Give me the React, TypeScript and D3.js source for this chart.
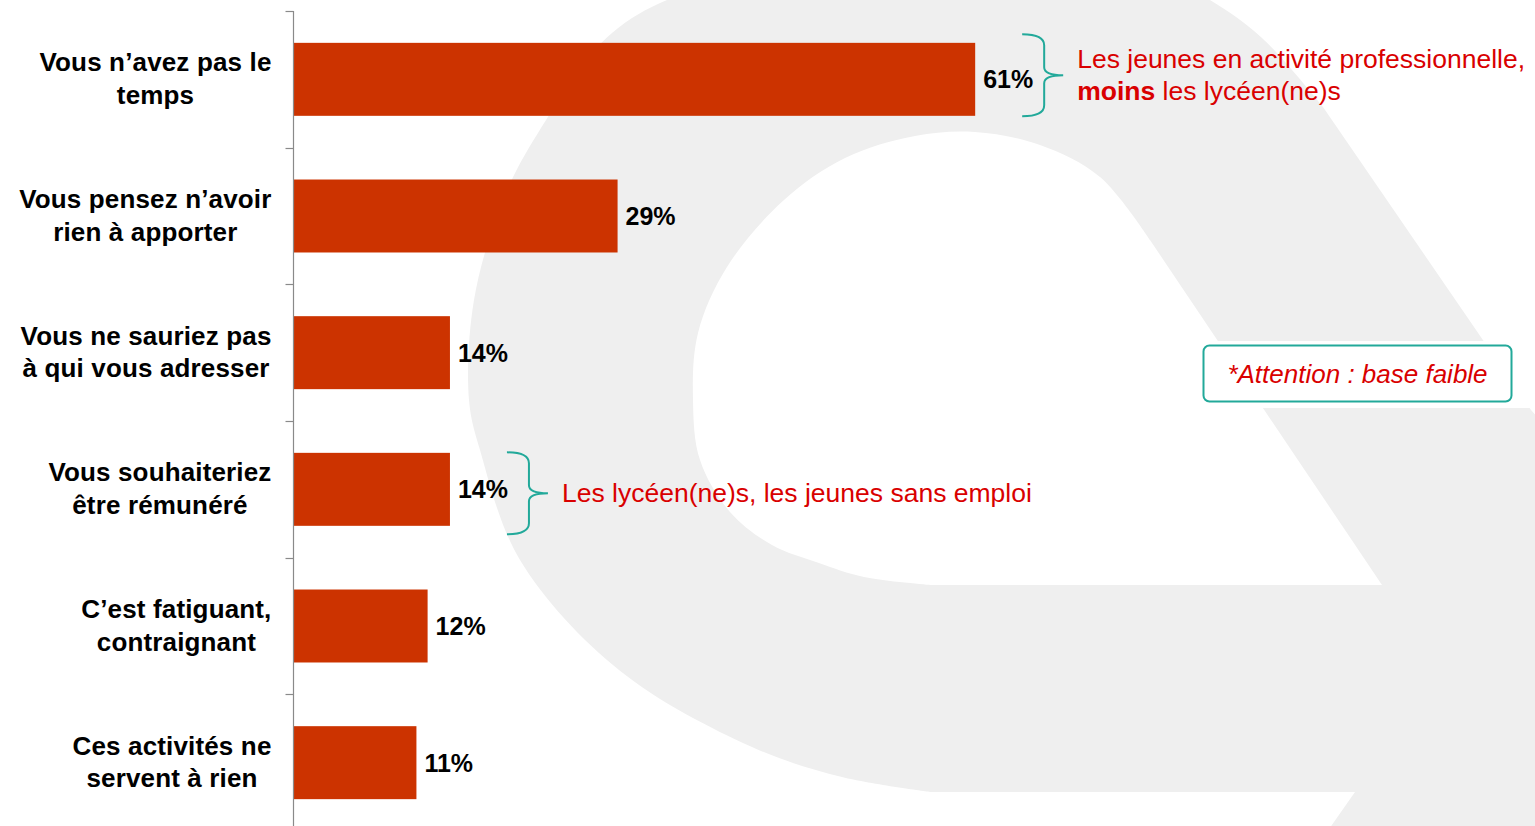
import { useEffect, useRef } from 'react'
import * as d3 from 'd3'

// chart data
const categories = [
  'Vous n’avez pas le\ntemps',
  'Vous pensez n’avoir\nrien à apporter',
  'Vous ne sauriez pas\nà qui vous adresser',
  'Vous souhaiteriez\nêtre rémunéré',
  'C’est fatiguant,\ncontraignant',
  'Ces activités ne\nservent à rien'
]
const values = [61, 29, 14, 14, 12, 11]

// callouts next to some bars (bold parts marked with b)
const callouts = [
  {
    index: 0,
    shift: -4,
    gap: 47,
    lines: [
      [{ t: 'Les jeunes en activité professionnelle,', b: false }],
      [{ t: 'moins', b: true }, { t: ' les lycéen(ne)s', b: false }]
    ]
  },
  {
    index: 3,
    shift: 4,
    gap: 57,
    lines: [[{ t: 'Les lycéen(ne)s, les jeunes sans emploi', b: false }]]
  }
]
const noteText = '*Attention : base faible'

// faint logo in the background
const logoOuter = [
  [1323, 107], [1262, 38], [1210, 0], [1150, -30], [900, -45], [700, -12],
  [612, 33], [538, 133], [503, 200], [474, 300], [469, 400], [480, 450],
  [520, 560], [619, 670], [752, 747], [842, 777], [931, 792]
]
const logoHole = [
  [1150, 240], [1100, 177], [1040, 145], [975, 132], [915, 136], [845, 158],
  [784, 200], [727, 267], [698, 333], [693, 400], [700, 460], [730, 512],
  [772, 545], [819, 563], [864, 577], [931, 585]
]

const W = 1535
const H = 826
const FONT = '"Liberation Sans", Arial, sans-serif'
const BAR = '#CC3300'
const RED = '#D90000'
const TEAL = '#22A99A'

function App() {
  const svgRef = useRef(null)

  useEffect(() => {
    const svg = d3.select(svgRef.current)
    svg.selectAll('*').remove()

    // background watermark
    const curve = d3.line().curve(d3.curveCatmullRom.alpha(0.5))
    const outerPath = curve(logoOuter) + 'L1355,792L1327,832L1540,832L1540,420L1531,410Z'
    const holePath = curve(logoHole) + 'L1382,585Z'
    svg.append('rect').attr('width', W).attr('height', H).attr('fill', '#ffffff')
    svg.append('path')
      .attr('d', outerPath + holePath)
      .attr('fill', '#efefef')
      .attr('fill-rule', 'evenodd')
    svg.append('rect')
      .attr('x', 1190).attr('y', 341).attr('width', 345).attr('height', 67)
      .attr('fill', '#ffffff')

    // scales
    const y = d3.scaleBand()
      .domain(d3.range(categories.length))
      .range([11, 831])
      .paddingInner(0.466)
      .paddingOuter(0.233)

    const x = d3.scaleLinear()
      .domain([0, 100])
      .range([293.5, 293.5 + 1117.5])

    const g = svg.append('g')

    // bars
    g.selectAll('.bar')
      .data(values)
      .enter().append('rect')
      .attr('class', 'bar')
      .attr('x', x(0))
      .attr('y', (d, i) => y(i))
      .attr('width', d => x(d) - x(0))
      .attr('height', y.bandwidth())
      .attr('fill', BAR)

    // value labels
    g.selectAll('.value')
      .data(values)
      .enter().append('text')
      .attr('class', 'value')
      .attr('x', d => x(d) + 8)
      .attr('y', (d, i) => y(i) + y.bandwidth() / 2 + 9)
      .style('font-family', FONT)
      .style('font-weight', 'bold')
      .style('font-size', '25px')
      .attr('fill', '#000')
      .text(d => `${d}%`)

    // axis: vertical line with ticks on band boundaries
    const axisColor = '#8a8a8a'
    g.append('line')
      .attr('x1', x(0)).attr('x2', x(0))
      .attr('y1', y.range()[0]).attr('y2', H + 5)
      .attr('stroke', axisColor)
      .attr('stroke-width', 1.2)
    const bounds = d3.range(categories.length + 1).map(i => y.range()[0] + i * y.step())
    g.selectAll('.tick')
      .data(bounds)
      .enter().append('line')
      .attr('x1', x(0) - 8).attr('x2', x(0))
      .attr('y1', d => Math.round(d) + 0.5).attr('y2', d => Math.round(d) + 0.5)
      .attr('stroke', axisColor)
      .attr('stroke-width', 1.2)

    // category labels: lines centered, block right aligned to the axis
    categories.forEach((label, i) => {
      const c = y(i) + y.bandwidth() / 2
      const lines = label.split('\n')
      const t = g.append('text')
        .style('font-family', FONT)
        .style('font-weight', 'bold')
        .style('font-size', '26px')
        .style('letter-spacing', '0.15px')
        .attr('text-anchor', 'middle')
        .attr('fill', '#000')
      const spans = lines.map((ln, k) =>
        t.append('tspan')
          .attr('x', 0)
          .attr('y', c - 8 + k * 32.5)
          .text(ln))
      const maxW = d3.max(spans, s => s.node().getComputedTextLength())
      spans.forEach(s => s.attr('x', x(0) - 22 - maxW / 2))
    })

    // callouts with braces
    callouts.forEach(co => {
      const tipY = y(co.index) + y.bandwidth() / 2 + co.shift
      const xl = x(values[co.index]) + co.gap
      const xm = xl + 22
      const xt = xl + 41
      const top = tipY - 41
      const bot = tipY + 41
      const p = d3.path()
      p.moveTo(xl, top)
      p.quadraticCurveTo(xm, top, xm, top + 11)
      p.lineTo(xm, tipY - 8)
      p.quadraticCurveTo(xm, tipY, xt, tipY)
      p.quadraticCurveTo(xm, tipY, xm, tipY + 8)
      p.lineTo(xm, bot - 11)
      p.quadraticCurveTo(xm, bot, xl, bot)
      g.append('path')
        .attr('d', p.toString())
        .attr('fill', 'none')
        .attr('stroke', TEAL)
        .attr('stroke-width', 2)

      const t = g.append('text')
        .style('font-family', FONT)
        .style('font-size', '26.5px')
        .attr('fill', RED)
      co.lines.forEach((parts, k) => {
        const base = tipY + 9 - (co.lines.length - 1) * 16 + k * 32
        parts.forEach((part, j) => {
          const s = t.append('tspan').text(part.t)
          if (j === 0) s.attr('x', xt + 14).attr('y', base)
          if (part.b) s.style('font-weight', 'bold')
        })
      })
    })

    // note box
    g.append('rect')
      .attr('x', 1203.5).attr('y', 345.5)
      .attr('width', 308).attr('height', 56)
      .attr('rx', 6)
      .attr('fill', '#ffffff')
      .attr('stroke', TEAL)
      .attr('stroke-width', 2)
    g.append('text')
      .attr('x', 1357.5)
      .attr('y', 383)
      .attr('text-anchor', 'middle')
      .style('font-family', FONT)
      .style('font-style', 'italic')
      .style('font-size', '26px')
      .attr('fill', RED)
      .text(noteText)
  }, [])

  return (
    <div style={{ position: 'fixed', left: 0, top: 0, width: W, height: H, overflow: 'hidden', background: '#fff' }}>
      <svg ref={svgRef} width={W} height={H} style={{ display: 'block' }}></svg>
    </div>
  )
}

export default App
